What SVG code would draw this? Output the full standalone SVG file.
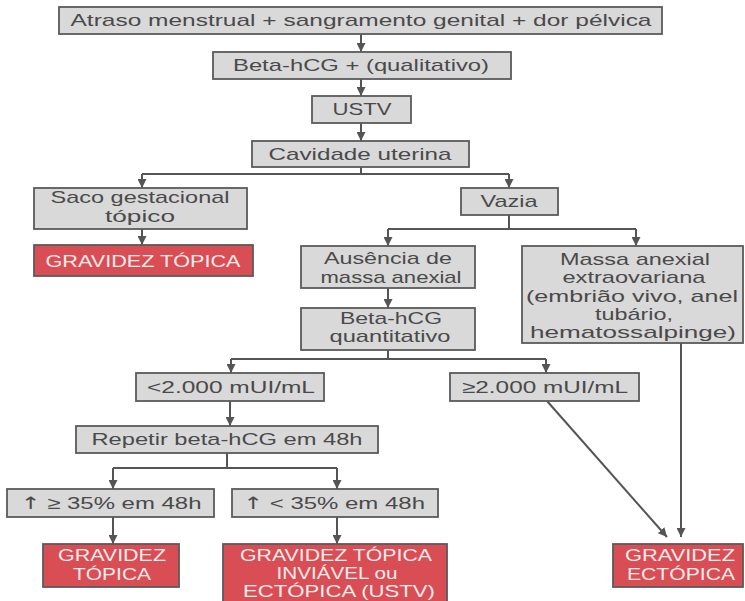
<svg xmlns="http://www.w3.org/2000/svg" width="745" height="601" viewBox="0 0 745 601">
<style>
.b{fill:#d9d9d9;stroke:#5a5a5a;stroke-width:1.8}
.r{fill:#d94d54;stroke:#5a5a5a;stroke-width:1.8}
text{font-family:"Liberation Sans",Arial,sans-serif;font-size:17px;text-anchor:middle}
.t{fill:#4a4a4a}
.w{fill:#fbecec}
.ar{font-family:"DejaVu Sans",sans-serif}
.c{fill:none;stroke:#555;stroke-width:2}
</style>
<defs>
<marker id="a" markerUnits="userSpaceOnUse" markerWidth="10" markerHeight="9" refX="9" refY="4.5" orient="auto">
<path d="M0,0 L9,4.5 L0,9 z" fill="#555"/>
</marker>
</defs>
<rect width="745" height="601" fill="#fff"/>
<g id="connectors">
<path class="c" marker-end="url(#a)" d="M361,34 V52"/>
<path class="c" marker-end="url(#a)" d="M361,79 V96"/>
<path class="c" marker-end="url(#a)" d="M361,123 V141"/>
<path class="c" d="M361,167 V174 M142,174 H509"/>
<path class="c" marker-end="url(#a)" d="M142,174 V188"/>
<path class="c" marker-end="url(#a)" d="M509,174 V188"/>
<path class="c" marker-end="url(#a)" d="M142,229 V245"/>
<path class="c" d="M509,215 V229 M388,229 H636"/>
<path class="c" marker-end="url(#a)" d="M388,229 V246"/>
<path class="c" marker-end="url(#a)" d="M636,229 V246"/>
<path class="c" marker-end="url(#a)" d="M388,288 V308"/>
<path class="c" d="M388,350 V359 M231,359 H546"/>
<path class="c" marker-end="url(#a)" d="M231,359 V373"/>
<path class="c" marker-end="url(#a)" d="M546,359 V373"/>
<path class="c" marker-end="url(#a)" d="M230,401 V426"/>
<path class="c" d="M227,453 V468 M113,468 H337"/>
<path class="c" marker-end="url(#a)" d="M113,468 V489"/>
<path class="c" marker-end="url(#a)" d="M337,468 V489"/>
<path class="c" marker-end="url(#a)" d="M113,517 V544"/>
<path class="c" marker-end="url(#a)" d="M337,517 V544"/>
<path class="c" marker-end="url(#a)" d="M547,401 L667,537"/>
<path class="c" marker-end="url(#a)" d="M681,343 V537"/>
</g>
<g id="n1"><rect class="b" x="59" y="7" width="603" height="27"/><text class="t" x="361" y="26" textLength="581" lengthAdjust="spacingAndGlyphs">Atraso menstrual + sangramento genital + dor pélvica</text></g>
<g id="n2"><rect class="b" x="213" y="52" width="298" height="27"/><text class="t" x="361" y="71" textLength="256" lengthAdjust="spacingAndGlyphs">Beta-hCG + (qualitativo)</text></g>
<g id="n3"><rect class="b" x="312" y="96" width="99" height="27"/><text class="t" x="362" y="115" textLength="59" lengthAdjust="spacingAndGlyphs">USTV</text></g>
<g id="n4"><rect class="b" x="252" y="141" width="217" height="26"/><text class="t" x="360" y="160" textLength="183" lengthAdjust="spacingAndGlyphs">Cavidade uterina</text></g>
<g id="n5"><rect class="b" x="34" y="188" width="213" height="41"/><text class="t" x="140" y="203" textLength="179" lengthAdjust="spacingAndGlyphs">Saco gestacional</text><text class="t" x="140" y="222" textLength="70" lengthAdjust="spacingAndGlyphs">tópico</text></g>
<g id="n6"><rect class="r" x="34" y="245" width="219" height="31"/><text class="w" x="143" y="267" textLength="195" lengthAdjust="spacingAndGlyphs">GRAVIDEZ TÓPICA</text></g>
<g id="n7"><rect class="b" x="461" y="188" width="97" height="27"/><text class="t" x="509" y="207" textLength="57" lengthAdjust="spacingAndGlyphs">Vazia</text></g>
<g id="n8"><rect class="b" x="301" y="246" width="174" height="42"/><text class="t" x="388" y="264" textLength="128" lengthAdjust="spacingAndGlyphs">Ausência de</text><text class="t" x="391" y="283" textLength="141" lengthAdjust="spacingAndGlyphs">massa anexial</text></g>
<g id="n9"><rect class="b" x="522" y="246" width="221" height="97"/><text class="t" x="635" y="265" textLength="150" lengthAdjust="spacingAndGlyphs">Massa anexial</text><text class="t" x="634" y="283" textLength="143" lengthAdjust="spacingAndGlyphs">extraovariana</text><text class="t" x="632" y="302" textLength="212" lengthAdjust="spacingAndGlyphs">(embrião vivo, anel</text><text class="t" x="634" y="320" textLength="78" lengthAdjust="spacingAndGlyphs">tubário,</text><text class="t" x="633" y="338" textLength="206" lengthAdjust="spacingAndGlyphs">hematossalpinge)</text></g>
<g id="n10"><rect class="b" x="301" y="308" width="174" height="42"/><text class="t" x="391" y="324" textLength="102" lengthAdjust="spacingAndGlyphs">Beta-hCG</text><text class="t" x="390" y="342" textLength="121" lengthAdjust="spacingAndGlyphs">quantitativo</text></g>
<g id="n11"><rect class="b" x="136" y="373" width="188" height="28"/><text class="t" x="231" y="393" textLength="168" lengthAdjust="spacingAndGlyphs">&lt;2.000 mUI/mL</text></g>
<g id="n12"><rect class="b" x="450" y="373" width="189" height="28"/><text class="t" x="545" y="393" textLength="166" lengthAdjust="spacingAndGlyphs">≥2.000 mUI/mL</text></g>
<g id="n13"><rect class="b" x="76" y="426" width="302" height="27"/><text class="t" x="227" y="445" textLength="271" lengthAdjust="spacingAndGlyphs">Repetir beta-hCG em 48h</text></g>
<g id="n14"><rect class="b" x="7" y="489" width="207" height="28"/><text class="t" x="111" y="509" textLength="181" lengthAdjust="spacingAndGlyphs"><tspan class="ar">↑</tspan> ≥ 35% em 48h</text></g>
<g id="n15"><rect class="b" x="232" y="489" width="206" height="28"/><text class="t" x="334" y="509" textLength="182" lengthAdjust="spacingAndGlyphs"><tspan class="ar">↑</tspan> &lt; 35% em 48h</text></g>
<g id="n16"><rect class="r" x="43" y="544" width="136" height="43"/><text class="w" x="112" y="561" textLength="108" lengthAdjust="spacingAndGlyphs">GRAVIDEZ</text><text class="w" x="112" y="580" textLength="78" lengthAdjust="spacingAndGlyphs">TÓPICA</text></g>
<g id="n17"><rect class="r" x="223" y="544" width="224" height="60"/><text class="w" x="336" y="561" textLength="192" lengthAdjust="spacingAndGlyphs">GRAVIDEZ TÓPICA</text><text class="w" x="337" y="579" textLength="121" lengthAdjust="spacingAndGlyphs">INVIÁVEL ou</text><text class="w" x="339" y="597" textLength="192" lengthAdjust="spacingAndGlyphs">ECTÓPICA (USTV)</text></g>
<g id="n18"><rect class="r" x="613" y="544" width="130" height="43"/><text class="w" x="680" y="561" textLength="110" lengthAdjust="spacingAndGlyphs">GRAVIDEZ</text><text class="w" x="681" y="580" textLength="108" lengthAdjust="spacingAndGlyphs">ECTÓPICA</text></g>
</svg>
